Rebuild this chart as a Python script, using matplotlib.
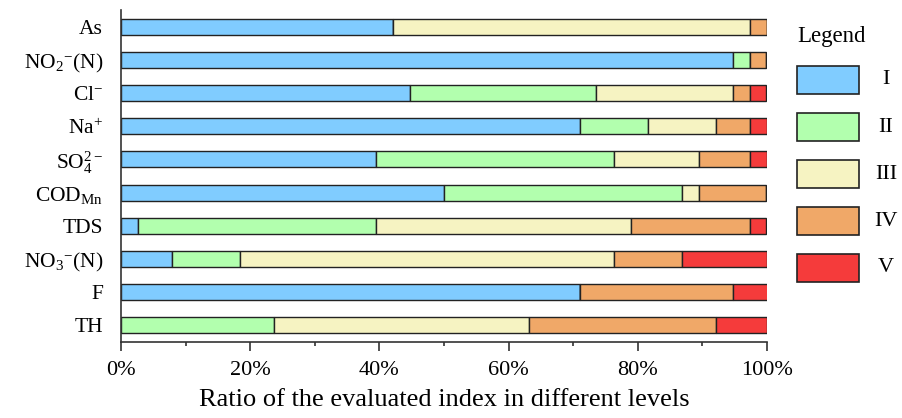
import numpy as np
import matplotlib
matplotlib.use("Agg")
import matplotlib.pyplot as plt
from matplotlib.patches import Rectangle
from matplotlib.ticker import MultipleLocator, PercentFormatter

plt.rcParams['font.family'] = ['Liberation Serif', 'DejaVu Serif']
plt.rcParams['mathtext.fontset'] = 'custom'
plt.rcParams['mathtext.rm'] = 'Liberation Serif'
plt.rcParams['mathtext.it'] = 'Liberation Serif:italic'
plt.rcParams['mathtext.bf'] = 'Liberation Serif:bold'

# indices, top to bottom
indices = ['As', r'NO$_2{}^{-}$(N)', r'Cl$^{-}$', r'Na$^{+}$', r'SO$_4^{2-}$',
           r'COD$_{\mathrm{Mn}}$', 'TDS', r'NO$_3{}^{-}$(N)', 'F', 'TH']
levels = ['I', 'II', 'III', 'IV', 'V']

# share of samples (%) in each level, same order as indices
level_I = [42.1, 94.7, 44.7, 71.1, 39.5, 50.0, 2.6, 7.9, 71.1, 0.0]
level_II = [0.0, 2.6, 28.9, 10.5, 36.8, 36.8, 36.8, 10.5, 0.0, 23.7]
level_III = [55.3, 0.0, 21.1, 10.5, 13.2, 2.6, 39.5, 57.9, 0.0, 39.5]
level_IV = [2.6, 2.6, 2.6, 5.3, 7.9, 10.5, 18.4, 10.5, 23.7, 28.9]
level_V = [0.0, 0.0, 2.6, 2.6, 2.6, 0.0, 2.6, 13.2, 5.3, 7.9]

colors = ['#80ccff', '#b2ffae', '#f6f3c2', '#f0a868', '#f53b3b']
edge = '#222222'

W, H = 902, 418
fig = plt.figure(figsize=(W / 100, H / 100), dpi=100)
ax = fig.add_axes([121 / W, 1 - 342 / H, 646 / W, 332 / H])

y = np.arange(len(indices))[::-1]
left = np.zeros(len(indices))
for name, vals, c in zip(levels, [level_I, level_II, level_III, level_IV, level_V], colors):
    vals = np.array(vals)
    ax.barh(y, vals, left=left, height=0.48, color=c, edgecolor=edge,
            linewidth=1.0, label=name)
    left += vals

ax.set_xlim(0, 100)
ax.set_ylim(-0.5, 9.5)
ax.set_yticks(y)
ax.set_yticklabels(indices, fontsize=15.5)
ax.tick_params(axis='y', length=0, pad=13)
ax.xaxis.set_major_locator(MultipleLocator(20))
ax.xaxis.set_minor_locator(MultipleLocator(10))
ax.xaxis.set_major_formatter(PercentFormatter(decimals=0))
ax.tick_params(axis='x', which='major', length=6.5, width=1.2, labelsize=16, pad=7,
               color='#333333')
ax.tick_params(axis='x', which='minor', length=3, width=1.2, color='#333333')
ax.set_xlabel('Ratio of the evaluated index in different levels', fontsize=19, labelpad=7)
for s in ['top', 'right']:
    ax.spines[s].set_visible(False)
for s in ['left', 'bottom']:
    ax.spines[s].set_linewidth(1.2)
    ax.spines[s].set_color('#333333')

# legend drawn by hand to sit like the original
fig.text(797 / W, 1 - 42 / H, 'Legend', fontsize=16.5, ha='left', va='baseline')
for i, (name, c) in enumerate(zip(levels, colors)):
    top = 66 + 47 * i
    fig.add_artist(Rectangle((797 / W, 1 - (top + 28) / H), 62 / W, 28 / H,
                             transform=fig.transFigure, facecolor=c,
                             edgecolor=edge, linewidth=1.2))
    fig.text(886 / W, 1 - (top + 14) / H, name, fontsize=16, ha='center', va='center')

fig.savefig('out.png', dpi=100)
